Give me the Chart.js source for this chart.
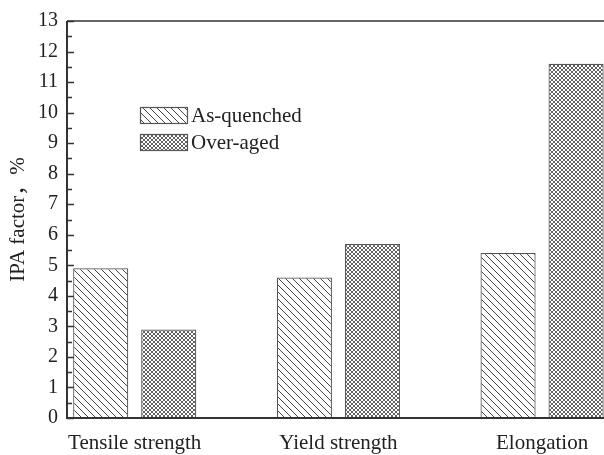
<!DOCTYPE html>
<html>
<head>
<meta charset="utf-8">
<script src="https://cdn.jsdelivr.net/npm/chart.js@4/dist/chart.umd.min.js"></script>
<style>
html,body{margin:0;padding:0;background:#fff;}
#wrap{width:604px;height:455px;}
</style>
</head>
<body>
<div id="wrap"><canvas id="c" width="604" height="455"></canvas></div>
<script>
const categories = ['Tensile strength', 'Yield strength', 'Elongation'];
const asQuenched = [4.9, 4.6, 5.4];
const overAged = [2.9, 5.7, 11.6];
const seriesNames = ['As-quenched', 'Over-aged'];
const yTicks = [0,1,2,3,4,5,6,7,8,9,10,11,12,13];
const yTitle = 'IPA factor，%';

const FONT = '"Liberation Serif", "Times New Roman", "Noto Sans CJK SC", serif';
const INK = '#222';

function hatchPattern() {
  const s = 7;
  const c = document.createElement('canvas');
  c.width = s; c.height = s;
  const g = c.getContext('2d');
  g.fillStyle = '#fff'; g.fillRect(0,0,s,s);
  g.strokeStyle = '#444'; g.lineWidth = 1;
  g.beginPath();
  g.moveTo(-1,-1); g.lineTo(s+1,s+1);
  g.moveTo(-1-s,-1); g.lineTo(1,s+1);
  g.moveTo(s-1,-1); g.lineTo(2*s+1,s+1);
  g.stroke();
  return g.createPattern(c, 'repeat');
}
function crossPattern() {
  const s = 4;
  const c = document.createElement('canvas');
  c.width = s; c.height = s;
  const g = c.getContext('2d');
  g.fillStyle = '#fff'; g.fillRect(0,0,s,s);
  g.strokeStyle = '#505050'; g.lineWidth = 0.9;
  g.beginPath();
  g.moveTo(-1,-1); g.lineTo(s+1,s+1);
  g.moveTo(-1-s,-1); g.lineTo(1,s+1);
  g.moveTo(s-1,-1); g.lineTo(2*s+1,s+1);
  g.moveTo(s+1,-1); g.lineTo(-1,s+1);
  g.moveTo(2*s+1,-1); g.lineTo(s-1,s+1);
  g.moveTo(1,-1); g.lineTo(-s-1,s+1);
  g.stroke();
  return g.createPattern(c, 'repeat');
}
const fills = [hatchPattern(), crossPattern()];

const frame = {
  id: 'frame',
  afterDraw(chart) {
    const {ctx, chartArea: a, scales: {y}} = chart;
    ctx.save();
    ctx.strokeStyle = '#333';
    ctx.lineWidth = 2;
    ctx.beginPath();
    ctx.moveTo(a.left, a.top); ctx.lineTo(a.left, a.bottom);
    ctx.moveTo(a.left - 1, a.bottom); ctx.lineTo(a.right, a.bottom);
    ctx.stroke();
    ctx.lineWidth = 1.5;
    ctx.beginPath();
    ctx.moveTo(a.left, a.top); ctx.lineTo(a.right, a.top);
    ctx.stroke();
    ctx.lineWidth = 1.5;
    ctx.beginPath();
    for (let v = y.min; v <= y.max + 1e-9; v += 0.5) {
      const py = Math.round(y.getPixelForValue(v)) + 0.5;
      const major = Math.abs(v - Math.round(v)) < 1e-9;
      ctx.moveTo(a.left, py); ctx.lineTo(a.left + (major ? 7 : 5), py);
    }
    ctx.stroke();
    // legend
    const lx = 140, ly = [107, 134], bw = 47, bh = 16;
    ctx.font = '21px ' + FONT;
    ctx.textBaseline = 'middle';
    ctx.textAlign = 'left';
    chart.data.datasets.forEach((ds, i) => {
      ctx.fillStyle = ds.backgroundColor;
      ctx.fillRect(lx, ly[i], bw, bh);
      ctx.strokeStyle = '#555'; ctx.lineWidth = 1.2;
      ctx.strokeRect(lx + 0.5, ly[i] + 0.5, bw, bh);
      ctx.fillStyle = INK;
      ctx.fillText(ds.label, lx + bw + 4, ly[i] + bh / 2 + 1);
    });
    ctx.restore();
  }
};

const mk = (vals) => vals.map((v, i) => ({x: i + 1, y: v}));

new Chart(document.getElementById('c'), {
  type: 'bar',
  data: {
    datasets: [
      {label: seriesNames[0], data: mk(asQuenched), backgroundColor: fills[0], borderColor: '#555', borderWidth: 1.2},
      {label: seriesNames[1], data: mk(overAged), backgroundColor: fills[1], borderColor: '#555', borderWidth: 1.2}
    ]
  },
  options: {
    responsive: false,
    animation: false,
    events: [],
    categoryPercentage: 0.668,
    barPercentage: 0.81,
    layout: {padding: {top: 20, right: 0, bottom: 0, left: 0}},
    plugins: {legend: {display: false}, tooltip: {enabled: false}},
    scales: {
      x: {
        type: 'linear',
        offset: false,
        min: 0.6675,
        max: 3.304,
        grid: {display: false, drawTicks: false, offset: false},
        border: {display: false},
        afterBuildTicks(s) { s.ticks = categories.map((c, i) => ({value: i + 1})); },
        afterFit(s) { s.height = 37; },
        ticks: {
          padding: 13,
          color: INK,
          font: {family: FONT, size: 21},
          maxRotation: 0,
          autoSkip: false,
          callback: (v) => categories[Math.round(v) - 1]
        }
      },
      y: {
        min: 0,
        max: 13,
        grid: {display: false, drawTicks: false},
        border: {display: false},
        afterBuildTicks(s) { s.ticks = yTicks.map(v => ({value: v})); },
        afterFit(s) { s.width = 67; },
        ticks: {
          padding: 9,
          color: INK,
          font: {family: FONT, size: 20}
        },
        title: {
          display: true,
          text: yTitle,
          color: INK,
          font: {family: FONT, size: 21},
          padding: {top: 6, bottom: 0}
        }
      }
    }
  },
  plugins: [frame]
});
</script>
</body>
</html>
